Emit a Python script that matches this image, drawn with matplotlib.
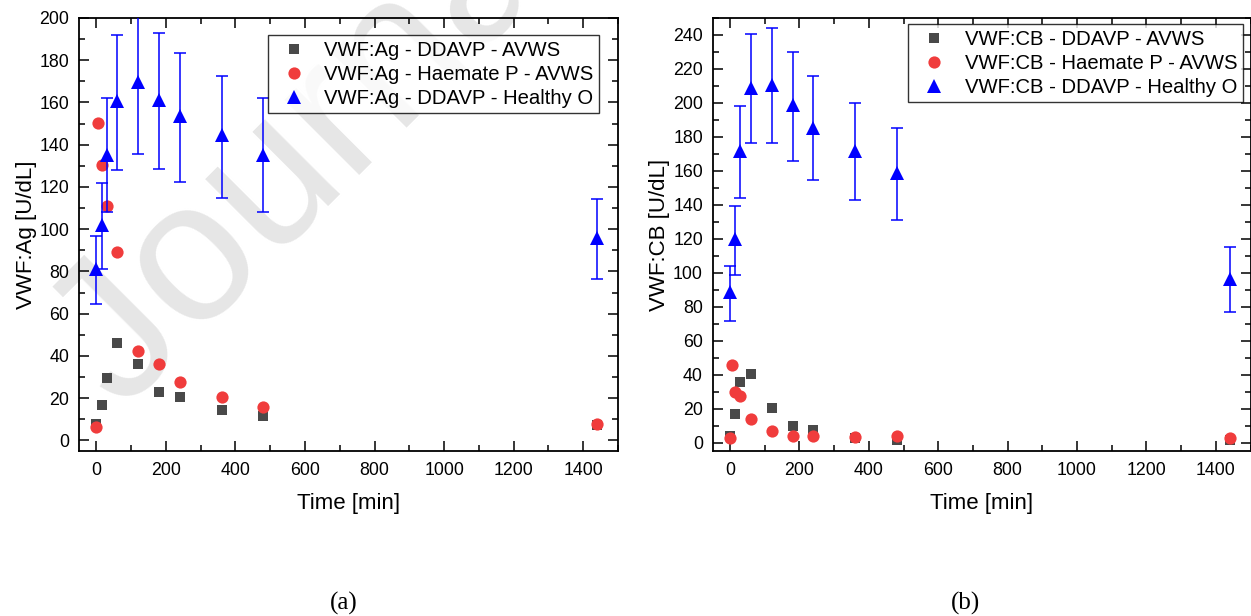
import matplotlib
matplotlib.use("Agg")
import matplotlib.pyplot as plt
from matplotlib.ticker import MultipleLocator
import numpy as np

plt.rcParams['font.family'] = ['Liberation Sans', 'DejaVu Sans']

# ---- data ----
t_main = [0, 15, 30, 60, 120, 180, 240, 360, 480, 1440]
t_haemate = [0, 5, 15, 30, 60, 120, 180, 240, 360, 480, 1440]

ag_ddavp_avws = [7.9, 16.6, 29.6, 46.2, 36.2, 22.9, 20.5, 14.4, 11.7, 7.1]
ag_haemate_avws = [6.2, 150.2, 130.4, 111.1, 89.3, 42.4, 36.4, 27.8, 20.6, 15.7, 7.7]
ag_ddavp_healthy = [81, 102, 135, 160.5, 169.7, 161, 153.4, 144.4, 135, 95.8]
ag_healthy_hi = [96.8, 122, 162, 192, 204, 193, 183.6, 172.7, 162, 114.3]
ag_healthy_lo = [64.5, 81.3, 108, 128, 135.5, 128.5, 122.4, 115, 108, 76.2]

cb_ddavp_avws = [3.9, 16.5, 35.7, 40.4, 20.5, 9.8, 7.1, 2.6, 1.6, 1.6]
cb_haemate_avws = [2.7, 45.5, 29.9, 27.1, 13.9, 6.7, 4.1, 4.1, 3.5, 3.8, 2.9]
cb_ddavp_healthy = [88.9, 119.7, 171.9, 209, 210.5, 198.6, 185.4, 171.9, 158.5, 96.3]
cb_healthy_hi = [104.2, 139.5, 198.2, 240.4, 243.9, 230.1, 215.6, 200.1, 185, 115]
cb_healthy_lo = [71.8, 98.7, 144.2, 176.2, 176.2, 165.8, 154.4, 142.7, 131, 77.1]

labels_ag = ["VWF:Ag - DDAVP - AVWS", "VWF:Ag - Haemate P - AVWS", "VWF:Ag - DDAVP - Healthy O"]
labels_cb = ["VWF:CB - DDAVP - AVWS", "VWF:CB - Haemate P - AVWS", "VWF:CB - DDAVP - Healthy O"]
ylabels = ["VWF:Ag [U/dL]", "VWF:CB [U/dL]"]
xlabel = "Time [min]"
panel_tags = ["(a)", "(b)"]

GRAY = "#494949"
RED = "#F03C3C"
BLUE = "#0000FF"

W, H = 1251, 616
fig = plt.figure(figsize=(W / 100, H / 100), dpi=100)


def fx(px):
    return px / W


def fy(py):
    return 1 - py / H


# watermark behind everything
fig.text(fx(122), fy(412), "Journal Pre-proof", fontsize=144, color="#e6e6e6",
         rotation=45, rotation_mode="anchor", ha="left", va="baseline", zorder=-5)

axL = fig.add_axes([fx(79), fy(451), fx(618) - fx(79), fy(18) - fy(451)])
axR = fig.add_axes([fx(712.7), fy(451), fx(1250.5) - fx(712.7), fy(18) - fy(451)])


def draw(ax, s1, s2, s3, lo, hi, labels, ymax, ytop_tick, ylabel, legend_anchor):
    ax.set_facecolor("none")
    ax.plot(t_main, s1, linestyle="none", marker="s", markersize=7.5, color=GRAY,
            markeredgewidth=0, label=labels[0], zorder=3)
    ax.plot(t_haemate, s2, linestyle="none", marker="o", markersize=8.8, color=RED,
            markeredgewidth=0, label=labels[1], zorder=4)
    s3a = np.array(s3)
    yerr = [s3a - np.array(lo), np.array(hi) - s3a]
    ax.errorbar(t_main, s3, yerr=yerr, fmt="none", ecolor=BLUE, elinewidth=1.1,
                capsize=4, capthick=1.1, zorder=5)
    ax.plot(t_main, s3, linestyle="none", marker="^", markersize=10, color=BLUE,
            markeredgewidth=0, label=labels[2], zorder=6)
    ax.set_xlim(-50, 1500)
    ax.set_ylim(-5, ymax)
    ax.xaxis.set_major_locator(MultipleLocator(200))
    ax.xaxis.set_minor_locator(MultipleLocator(100))
    ax.set_yticks(np.arange(0, ytop_tick + 1, 20))
    ax.yaxis.set_minor_locator(MultipleLocator(10))
    ax.tick_params(which="both", direction="in", top=True, right=True, width=1.1,
                   labelsize=12.8, color="black")
    ax.tick_params(which="major", length=7)
    ax.tick_params(which="minor", length=4)
    ax.tick_params(axis="y", pad=7)
    ax.tick_params(axis="x", pad=8)
    for sp in ax.spines.values():
        sp.set_linewidth(1.3)
    ax.set_ylabel(ylabel, fontsize=16, labelpad=2)
    ax.set_xlabel(xlabel, fontsize=16, labelpad=10)
    leg = ax.legend(loc="upper right", bbox_to_anchor=legend_anchor,
                    bbox_transform=fig.transFigure, borderaxespad=0, fontsize=14.6,
                    frameon=True, fancybox=False, edgecolor="black", handlelength=2.0,
                    handletextpad=0.5, labelspacing=0.25, borderpad=0.28, numpoints=1)
    leg.get_frame().set_linewidth(1.0)
    leg.set_zorder(10)


draw(axL, ag_ddavp_avws, ag_haemate_avws, ag_ddavp_healthy, ag_healthy_lo, ag_healthy_hi,
     labels_ag, 200, 200, ylabels[0], (fx(599), fy(35)))
draw(axR, cb_ddavp_avws, cb_haemate_avws, cb_ddavp_healthy, cb_healthy_lo, cb_healthy_hi,
     labels_cb, 250, 240, ylabels[1], (fx(1243), fy(24)))

fig.text(fx(344), fy(603), panel_tags[0], family=["Liberation Serif"], fontsize=18,
         ha="center", va="center")
fig.text(fx(965), fy(603), panel_tags[1], family=["Liberation Serif"], fontsize=18,
         ha="center", va="center")

fig.savefig("out.png", dpi=100)
